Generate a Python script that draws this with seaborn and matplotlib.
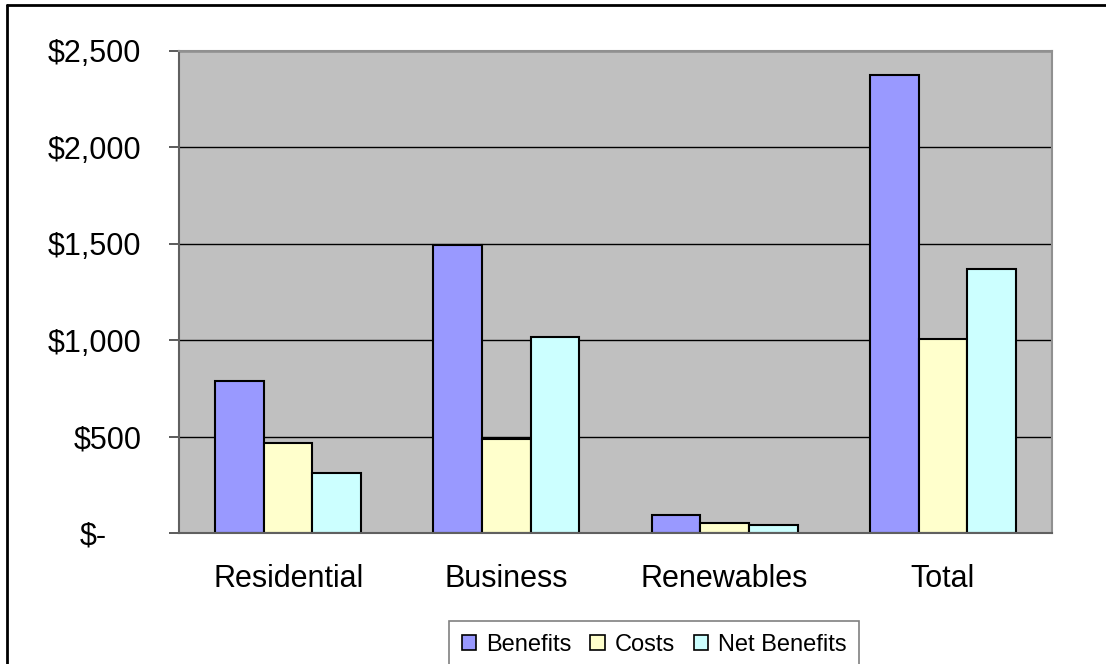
import matplotlib
matplotlib.use("Agg")
import matplotlib.pyplot as plt
import matplotlib.transforms as mtransforms
from matplotlib.lines import Line2D
from matplotlib.patches import Patch
import seaborn as sns
import pandas as pd

categories = ["Residential", "Business", "Renewables", "Total"]
series_names = ["Benefits", "Costs", "Net Benefits"]
benefits = [790, 1494, 95, 2376]
costs = [468, 490, 50, 1008]
net_benefits = [312, 1017, 43, 1368]
yticks = [0, 500, 1000, 1500, 2000, 2500]
ytick_labels = ["$-", "$500", "$1,000", "$1,500", "$2,000", "$2,500"]
colors = ["#9999FF", "#FFFFCC", "#CCFFFF"]

rows = []
for name, vals in zip(series_names, [benefits, costs, net_benefits]):
    for c, v in zip(categories, vals):
        rows.append({"category": c, "series": name, "value": v})
df = pd.DataFrame(rows)

sns.set_style("white")
plt.rcParams["font.family"] = ["Liberation Sans", "DejaVu Sans"]
plt.rcParams["text.color"] = "black"
plt.rcParams["xtick.color"] = "black"
plt.rcParams["ytick.color"] = "black"

W, H = 1106, 664
fig = plt.figure(figsize=(W / 100, H / 100), dpi=100)
ax = fig.add_axes([179 / W, 1 - 533 / H, (1052 - 179) / W, (533 - 51) / H])
ax.set_facecolor("#C0C0C0")

sns.barplot(data=df, x="category", y="value", hue="series", order=categories,
            hue_order=series_names, palette=colors, width=0.67, gap=0,
            edgecolor="black", linewidth=1.5, saturation=1, ax=ax, legend=False)

ax.set_ylim(0, 2500)
ax.set_xlim(-0.5, 3.5)
ax.set_yticks(yticks)
ax.set_yticklabels(ytick_labels)
ax.yaxis.grid(True, color="black", linewidth=1)
ax.set_axisbelow(True)
ax.set_xlabel("")
ax.set_ylabel("")

# category-boundary ticks on x
ax.set_xticks(range(len(categories)))
ax.set_xticklabels(categories)
ax.set_xticks([i - 0.5 for i in range(len(categories) + 1)], minor=True)
ax.tick_params(axis="x", which="major", length=0, pad=22, labelsize=22, labelcolor="black")
ax.tick_params(axis="x", which="minor", length=7, width=1.2, color="#606060", direction="out")
ax.tick_params(axis="y", which="major", length=7, width=1.2, color="#404040", direction="out",
               pad=20, labelsize=22, left=True, labelcolor="black")

for side in ["left", "bottom"]:
    ax.spines[side].set_color("#606060")
    ax.spines[side].set_linewidth(1.5)
for side in ["top", "right"]:
    ax.spines[side].set_color("#909090")
    ax.spines[side].set_linewidth(1.5)

# shift "$-" label like accounting format
for lbl in ax.get_yticklabels():
    if lbl.get_text() == "$-":
        lbl.set_transform(lbl.get_transform() + mtransforms.ScaledTranslation(-35 / 100, 0, fig.dpi_scale_trans))

handles = [Patch(facecolor=c, edgecolor="black", linewidth=1.2) for c in colors]
leg = fig.legend(handles, series_names, loc="upper center", bbox_to_anchor=(654 / W, 1 - 621 / H),
                 ncol=3, fontsize=17, frameon=True, fancybox=False, edgecolor="#606060",
                 handlelength=0.63, handleheight=0.63, handletextpad=0.4, columnspacing=0.8,
                 borderpad=0.55, borderaxespad=0, labelcolor="black")
leg.get_frame().set_linewidth(1.2)

# outer chart border (left and top visible)
fig.add_artist(Line2D([7 / W, 7 / W], [0, 1 - 5 / H], color="black", linewidth=2, transform=fig.transFigure))
fig.add_artist(Line2D([7 / W, 1], [1 - 5 / H, 1 - 5 / H], color="black", linewidth=2, transform=fig.transFigure))

fig.savefig("out.png", dpi=100)
